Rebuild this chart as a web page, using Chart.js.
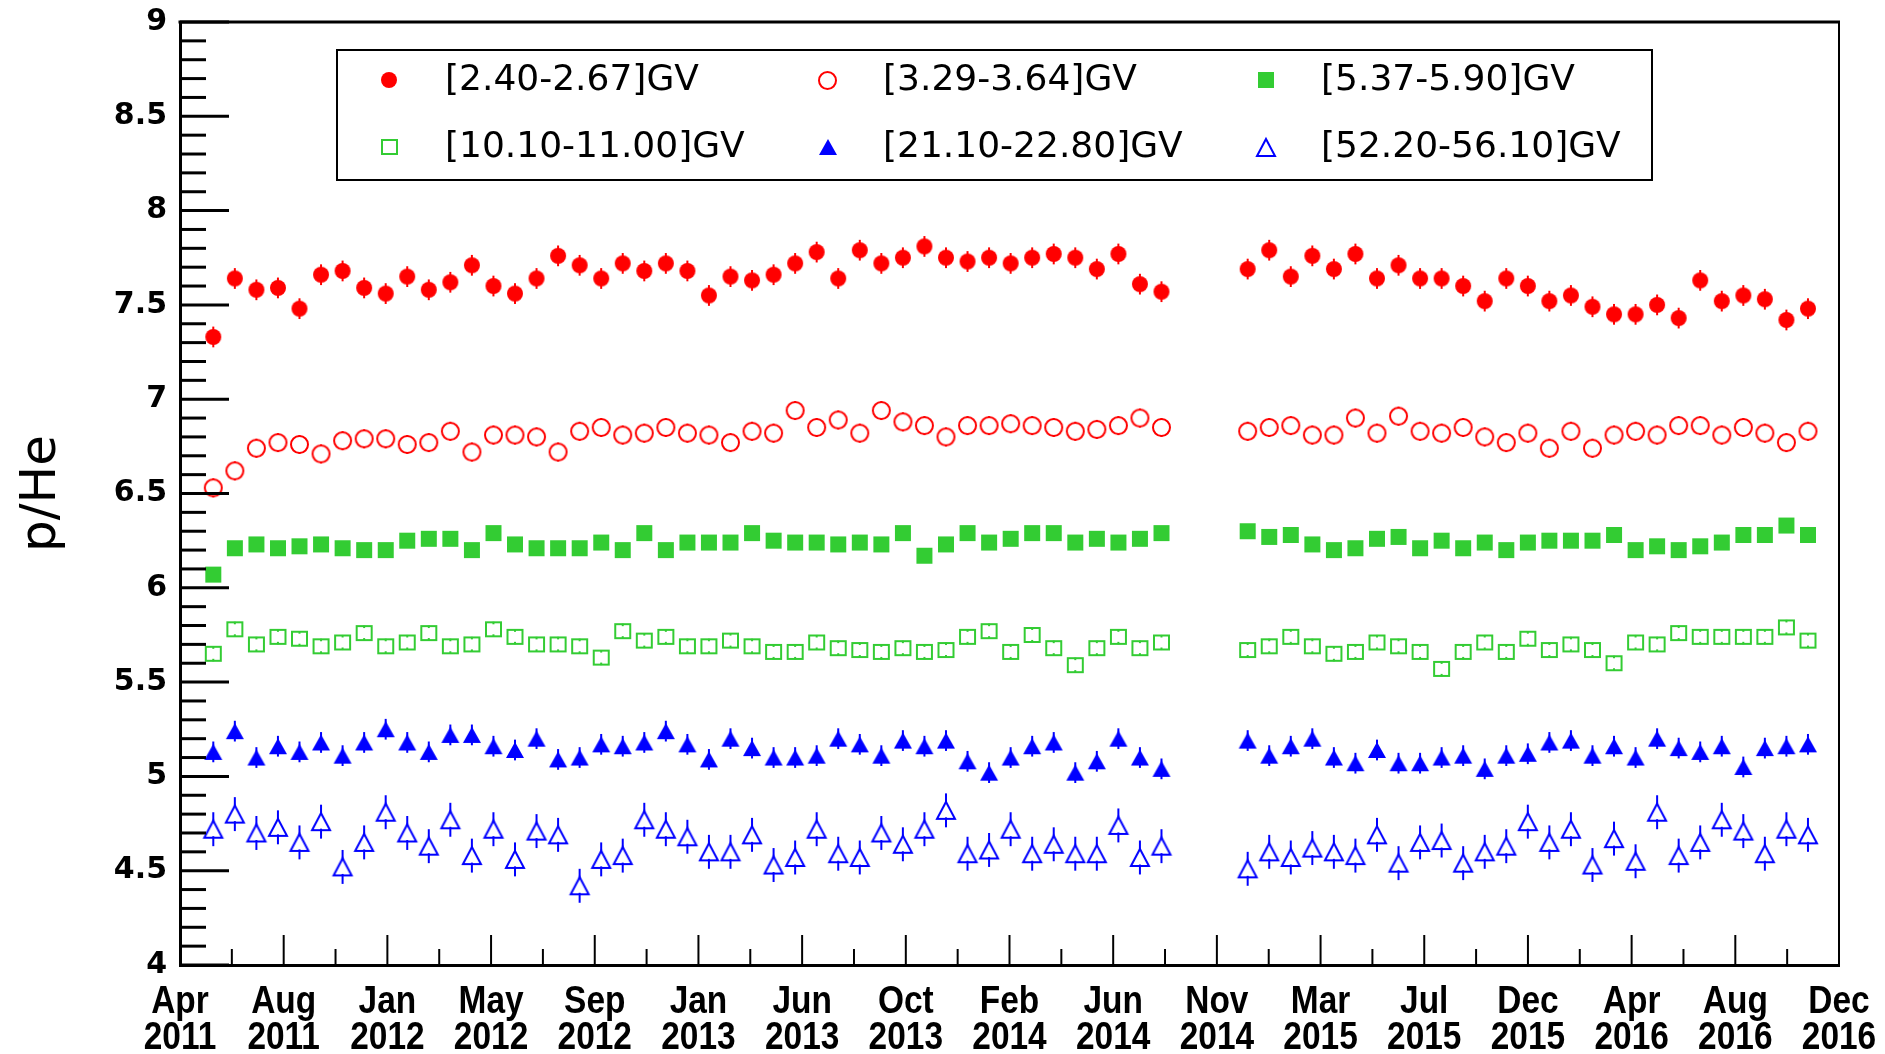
<!DOCTYPE html>
<html>
<head>
<meta charset="utf-8">
<title>p/He ratio vs time</title>
<script src="https://cdn.jsdelivr.net/npm/chart.js@4.4.1/dist/chart.umd.min.js"></script>
<style>
  html, body { margin: 0; padding: 0; background: #fff; }
  #wrap { width: 1885px; height: 1054px; }
</style>
</head>
<body>
<div id="wrap"><canvas id="chart" width="1885" height="1054"></canvas></div>
<script>
// 27-day rotation index of each point (no data for 45-47)
const rotation = [
  0, 1, 2, 3, 4, 5, 6, 7, 8, 9, 10, 11, 12, 13, 14, 15, 16, 17, 18, 19, 20, 21, 22,
  23, 24, 25, 26, 27, 28, 29, 30, 31, 32, 33, 34, 35, 36, 37, 38, 39, 40, 41, 42, 43, 44,
  48, 49, 50, 51, 52, 53, 54, 55, 56, 57, 58, 59, 60, 61, 62, 63, 64, 65, 66, 67, 68,
  69, 70, 71, 72, 73, 74
];

const tickLabels = [
  ['Apr', '2011'], ['Aug', '2011'], ['Jan', '2012'], ['May', '2012'], ['Sep', '2012'],
  ['Jan', '2013'], ['Jun', '2013'], ['Oct', '2013'], ['Feb', '2014'], ['Jun', '2014'],
  ['Nov', '2014'], ['Mar', '2015'], ['Jul', '2015'], ['Dec', '2015'], ['Apr', '2016'],
  ['Aug', '2016'], ['Dec', '2016']
];

// p/He per rigidity bin
const r240 = [
  7.33, 7.64, 7.58, 7.59, 7.48, 7.66, 7.68, 7.59, 7.56, 7.65, 7.58, 7.62, 7.71, 7.60, 7.56,
  7.64, 7.76, 7.71, 7.64, 7.72, 7.68, 7.72, 7.68, 7.55, 7.65, 7.63, 7.66, 7.72, 7.78, 7.64,
  7.79, 7.72, 7.75, 7.81, 7.75, 7.73, 7.75, 7.72, 7.75, 7.77, 7.75, 7.69, 7.77, 7.61, 7.57,
  7.69, 7.79, 7.65, 7.76, 7.69, 7.77, 7.64, 7.71, 7.64, 7.64, 7.60, 7.52, 7.64, 7.60,
  7.52, 7.55, 7.49, 7.45, 7.45, 7.50, 7.43, 7.63, 7.52, 7.55, 7.53, 7.42, 7.48
];
const r329 = [
  6.53, 6.62, 6.74, 6.77, 6.76, 6.71, 6.78, 6.79, 6.79, 6.76, 6.77, 6.83, 6.72, 6.81, 6.81,
  6.80, 6.72, 6.83, 6.85, 6.81, 6.82, 6.85, 6.82, 6.81, 6.77, 6.83, 6.82, 6.94, 6.85, 6.89,
  6.82, 6.94, 6.88, 6.86, 6.80, 6.86, 6.86, 6.87, 6.86, 6.85, 6.83, 6.84, 6.86, 6.90, 6.85,
  6.83, 6.85, 6.86, 6.81, 6.81, 6.90, 6.82, 6.91, 6.83, 6.82, 6.85, 6.80, 6.77, 6.82,
  6.74, 6.83, 6.74, 6.81, 6.83, 6.81, 6.86, 6.86, 6.81, 6.85, 6.82, 6.77, 6.83
];
const r537 = [
  6.07, 6.21, 6.23, 6.21, 6.22, 6.23, 6.21, 6.20, 6.20, 6.25, 6.26, 6.26, 6.20, 6.29, 6.23,
  6.21, 6.21, 6.21, 6.24, 6.20, 6.29, 6.20, 6.24, 6.24, 6.24, 6.29, 6.25, 6.24, 6.24, 6.23,
  6.24, 6.23, 6.29, 6.17, 6.23, 6.29, 6.24, 6.26, 6.29, 6.29, 6.24, 6.26, 6.24, 6.26, 6.29,
  6.30, 6.27, 6.28, 6.23, 6.20, 6.21, 6.26, 6.27, 6.21, 6.25, 6.21, 6.24, 6.20, 6.24,
  6.25, 6.25, 6.25, 6.28, 6.20, 6.22, 6.20, 6.22, 6.24, 6.28, 6.28, 6.33, 6.28
];
const r1010 = [
  5.65, 5.78, 5.70, 5.74, 5.73, 5.69, 5.71, 5.76, 5.69, 5.71, 5.76, 5.69, 5.70, 5.78, 5.74,
  5.70, 5.70, 5.69, 5.63, 5.77, 5.72, 5.74, 5.69, 5.69, 5.72, 5.69, 5.66, 5.66, 5.71, 5.68,
  5.67, 5.66, 5.68, 5.66, 5.67, 5.74, 5.77, 5.66, 5.75, 5.68, 5.59, 5.68, 5.74, 5.68, 5.71,
  5.67, 5.69, 5.74, 5.69, 5.65, 5.66, 5.71, 5.69, 5.66, 5.57, 5.66, 5.71, 5.66, 5.73,
  5.67, 5.70, 5.67, 5.60, 5.71, 5.70, 5.76, 5.74, 5.74, 5.74, 5.74, 5.79, 5.72
];
const r2110 = [
  5.13, 5.24, 5.10, 5.16, 5.13, 5.18, 5.11, 5.18, 5.25, 5.18, 5.13, 5.22, 5.22, 5.16, 5.14,
  5.20, 5.09, 5.10, 5.17, 5.16, 5.18, 5.24, 5.17, 5.09, 5.20, 5.15, 5.10, 5.10, 5.11, 5.20,
  5.17, 5.11, 5.19, 5.16, 5.19, 5.08, 5.02, 5.10, 5.16, 5.18, 5.02, 5.08, 5.20, 5.10, 5.04,
  5.19, 5.11, 5.16, 5.20, 5.10, 5.07, 5.14, 5.07, 5.07, 5.10, 5.11, 5.04, 5.11, 5.12,
  5.18, 5.19, 5.11, 5.16, 5.10, 5.20, 5.15, 5.13, 5.16, 5.05, 5.15, 5.16, 5.17
];
const r5220 = [
  4.72, 4.80, 4.70, 4.73, 4.65, 4.76, 4.52, 4.65, 4.81, 4.70, 4.63, 4.77, 4.58, 4.72, 4.56,
  4.71, 4.69, 4.42, 4.56, 4.58, 4.77, 4.72, 4.68, 4.60, 4.60, 4.69, 4.53, 4.57, 4.72, 4.59,
  4.57, 4.70, 4.64, 4.72, 4.82, 4.59, 4.61, 4.72, 4.59, 4.64, 4.59, 4.59, 4.74, 4.57, 4.63,
  4.51, 4.60, 4.57, 4.62, 4.60, 4.58, 4.69, 4.54, 4.65, 4.66, 4.54, 4.60, 4.63, 4.76,
  4.65, 4.72, 4.53, 4.67, 4.55, 4.81, 4.58, 4.65, 4.77, 4.71, 4.59, 4.72, 4.69
];

const X_MIN = -1.545, X_MAX = 75.44;
const Y_MIN = 4, Y_MAX = 9;

const RED = '#ff0000', GREEN = '#33cc33', BLUE = '#0000ff';
const WIDE_FONT = '"DejaVu Sans", "Liberation Sans", sans-serif';

// ROOT-like markers drawn once into small canvases
function marker(shape, color, filled, w, h) {
  const lw = 2;
  const c = document.createElement('canvas');
  c.width = w + 4; c.height = h + 4;
  const g = c.getContext('2d');
  const cx = c.width / 2, cy = c.height / 2;
  const ins = filled ? 0 : lw / 2;
  g.beginPath();
  if (shape === 'circle') {
    g.arc(cx, cy, w / 2 - ins, 0, Math.PI * 2);
  } else if (shape === 'square') {
    g.rect(cx - w / 2 + ins, cy - h / 2 + ins, w - 2 * ins, h - 2 * ins);
  } else {
    g.moveTo(cx, cy - h / 2 + ins);
    g.lineTo(cx + w / 2 - ins, cy + h / 2 - ins);
    g.lineTo(cx - w / 2 + ins, cy + h / 2 - ins);
    g.closePath();
  }
  if (filled) { g.fillStyle = color; g.fill(); }
  else { g.strokeStyle = color; g.lineWidth = lw; g.stroke(); }
  return c;
}

function series(label, values, color, style, err, gap) {
  return {
    label: label,
    data: rotation.map((r, k) => ({ x: r, y: values[k] })),
    pointStyle: style,
    pointRadius: 8,
    pointHoverRadius: 8,
    borderColor: color,
    backgroundColor: color,
    showLine: false,
    errBar: err,
    errGap: gap
  };
}

const datasets = [
  series('[2.40-2.67]GV', r240, RED, marker('circle', RED, true, 16, 16), 0.055, 0),
  series('[3.29-3.64]GV', r329, RED, marker('circle', RED, false, 19, 19), 0.05, 8),
  series('[5.37-5.90]GV', r537, GREEN, marker('square', GREEN, true, 16, 16), 0.035, 0),
  series('[10.10-11.00]GV', r1010, GREEN, marker('square', GREEN, false, 17, 16), 0.04, 5),
  series('[21.10-22.80]GV', r2110, BLUE, marker('triangle', BLUE, true, 18, 16), 0.055, 0),
  series('[52.20-56.10]GV', r5220, BLUE, marker('triangle', BLUE, false, 20, 19), 0.09, 7)
];

function line(ctx, x1, y1, x2, y2) {
  ctx.beginPath(); ctx.moveTo(x1, y1); ctx.lineTo(x2, y2); ctx.stroke();
}

const rootFrame = {
  id: 'rootFrame',
  beforeDatasetsDraw(chart) {
    const ctx = chart.ctx, ya = chart.scales.y;
    ctx.save();
    ctx.lineWidth = 2;
    chart.data.datasets.forEach((ds, i) => {
      ctx.strokeStyle = ds.borderColor;
      chart.getDatasetMeta(i).data.forEach((pt, k) => {
        const v = ds.data[k].y;
        const top = ya.getPixelForValue(v + ds.errBar);
        const bot = ya.getPixelForValue(v - ds.errBar);
        if (pt.y - ds.errGap > top) line(ctx, pt.x, top, pt.x, pt.y - ds.errGap);
        if (pt.y + ds.errGap < bot) line(ctx, pt.x, pt.y + ds.errGap, pt.x, bot);
      });
    });
    ctx.restore();
  },
  afterDraw(chart) {
    const ctx = chart.ctx, a = chart.chartArea;
    const xa = chart.scales.x, ya = chart.scales.y;
    ctx.save();
    ctx.strokeStyle = '#000';
    // y ticks, major every 0.5, minor every 0.1
    ctx.lineWidth = 3;
    for (let k = 0; k <= 50; k++) {
      const py = ya.getPixelForValue(Y_MIN + k * 0.1);
      line(ctx, a.left, py, a.left + (k % 5 === 0 ? 49 : 26), py);
    }
    // x ticks, one minor between majors
    ctx.lineWidth = 2;
    for (let k = 0; k <= 32; k++) {
      const px = xa.getPixelForValue(X_MIN + k * (X_MAX - X_MIN) / 32);
      line(ctx, px, a.bottom, px, a.bottom - (k % 2 === 0 ? 30 : 16));
    }
    // frame
    ctx.lineWidth = 3;
    line(ctx, a.left - 1.5, a.top, a.right + 1, a.top);
    ctx.lineWidth = 2;
    line(ctx, a.right, a.top, a.right, a.bottom);

    // condensed bold date labels under the x ticks
    ctx.fillStyle = '#000';
    ctx.font = 'bold 38px "Liberation Sans", Arial, sans-serif';
    ctx.textAlign = 'center';
    ctx.textBaseline = 'middle';
    xa.ticks.forEach((t, i) => {
      const px = xa.getPixelForValue(t.value);
      tickLabels[i].forEach((txt, j) => {
        ctx.save();
        ctx.translate(px, a.bottom + 38 + j * 36);
        ctx.scale(0.88, 1);
        ctx.fillText(txt, 0, 0);
        ctx.restore();
      });
    });

    // legend box
    ctx.lineWidth = 2;
    ctx.strokeRect(337, 50, 1315, 130);
    ctx.font = '36px ' + WIDE_FONT;
    ctx.textAlign = 'left';
    chart.data.datasets.forEach((ds, i) => {
      const col = i % 3, row = Math.floor(i / 3);
      const mx = 389 + col * 438.5, my = 80 + row * 67;
      const img = ds.pointStyle;
      ctx.drawImage(img, Math.round(mx - img.width / 2), Math.round(my - img.height / 2));
      ctx.fillText(ds.label, 445 + col * 438, my + 1);
    });
    ctx.restore();
  }
};

new Chart(document.getElementById('chart'), {
  type: 'scatter',
  data: { datasets: datasets },
  options: {
    responsive: false,
    animation: false,
    events: [],
    layout: { padding: { top: 22, right: 46, left: 0, bottom: 0 } },
    plugins: {
      legend: { display: false },
      tooltip: { enabled: false }
    },
    scales: {
      x: {
        type: 'linear',
        min: X_MIN,
        max: X_MAX,
        afterBuildTicks(scale) {
          scale.ticks = tickLabels.map((_, k) => ({ value: X_MIN + k * (X_MAX - X_MIN) / 16 }));
        },
        afterFit(scale) {
          scale.height = 89;
          scale.paddingLeft = 0;
          scale.paddingRight = 0;
        },
        grid: { display: false, drawTicks: false },
        border: { display: true, color: '#000', width: 3 },
        ticks: { display: false, autoSkip: false, maxRotation: 0 }
      },
      y: {
        min: Y_MIN,
        max: Y_MAX,
        afterFit(scale) {
          scale.width = 180;
          scale.paddingTop = 0;
          scale.paddingBottom = 0;
        },
        grid: { display: false, drawTicks: false },
        border: { display: true, color: '#000', width: 3 },
        ticks: {
          stepSize: 0.5,
          padding: 13,
          color: '#000',
          font: { family: WIDE_FONT, size: 30, weight: 'bold' },
          callback: v => String(v)
        },
        title: {
          display: true,
          text: 'p/He',
          color: '#000',
          padding: { top: 12, bottom: 0 },
          font: { family: WIDE_FONT, size: 50 }
        }
      }
    }
  },
  plugins: [rootFrame]
});
</script>
</body>
</html>
